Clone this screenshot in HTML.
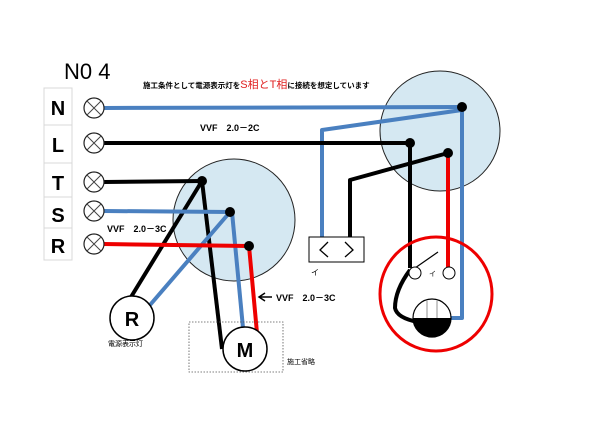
<!DOCTYPE html>
<html><head><meta charset="utf-8"><style>
body{margin:0;background:#fff;}
svg{display:block;font-family:"Liberation Sans","Noto Sans CJK JP",sans-serif;}
</style></head><body>
<svg width="600" height="425" viewBox="0 0 600 425" xmlns="http://www.w3.org/2000/svg">
<rect width="600" height="425" fill="#fff"/>
<text x="64" y="79" font-size="22">N0 4</text>
<text x="143" y="88" font-size="7.5" font-weight="bold">施工条件として電源表示灯を<tspan fill="#e02020" font-size="11" font-weight="normal">S相とT相</tspan>に接続を想定しています</text>
<!-- terminal block -->
<g fill="none" stroke="#d8d8d8" stroke-width="1">
<rect x="44" y="88" width="28" height="172"/>
<line x1="44" y1="125" x2="72" y2="125"/><line x1="44" y1="163" x2="72" y2="163"/>
<line x1="44" y1="197" x2="72" y2="197"/><line x1="44" y1="228" x2="72" y2="228"/>
</g>
<g font-size="20" font-weight="bold" text-anchor="middle">
<text x="58" y="115">N</text><text x="58" y="152">L</text><text x="58" y="190">T</text><text x="58" y="222">S</text><text x="58" y="253">R</text>
</g>
<!-- circles -->
<circle cx="234" cy="220" r="61" fill="#d5e8f2" stroke="#222" stroke-width="1"/>
<circle cx="440" cy="131" r="60" fill="#d5e8f2" stroke="#222" stroke-width="1"/>
<!-- wires -->
<g fill="none" stroke-width="4" stroke-linejoin="round">
<polyline points="104,108 462,107 462,318 445,318" stroke="#4a80c0"/>
<polyline points="322,240 322,130 462,110" stroke="#4a80c0"/>
<polyline points="104,143 410,143 410,268" stroke="#000"/>
<polyline points="350,240 350,180 448,153" stroke="#000"/>
<line x1="448" y1="153" x2="448" y2="267" stroke="#e00"/>
<line x1="104" y1="182" x2="202" y2="181" stroke="#000"/>
<line x1="202" y1="181" x2="131" y2="297" stroke="#000"/>
<line x1="202" y1="181" x2="222" y2="349" stroke="#000"/>
<line x1="104" y1="211" x2="230" y2="212" stroke="#4a80c0"/>
<line x1="230" y1="212" x2="150" y2="305" stroke="#4a80c0"/>
<line x1="232" y1="212" x2="243" y2="328" stroke="#4a80c0"/>
<polyline points="104,244 249,246 257,333" stroke="#e00"/>
<path d="M410,270 Q395,290 395,308 Q397,318 418,322" stroke="#000"/>
</g>
<g fill="#000">
<circle cx="202" cy="181" r="5"/><circle cx="230" cy="212" r="5"/><circle cx="249" cy="246" r="5"/>
<circle cx="462" cy="107" r="5"/><circle cx="410" cy="143" r="5"/><circle cx="448" cy="153" r="5"/>
</g>
<!-- terminal screws -->
<g fill="#fff" stroke="#222" stroke-width="1.2">
<circle cx="94" cy="108" r="10"/><circle cx="94" cy="143" r="10"/><circle cx="94" cy="182" r="10"/><circle cx="94" cy="211" r="10"/><circle cx="94" cy="244" r="10"/>
</g>
<g stroke="#444" stroke-width="1">
<path d="M87,101l14,14M101,101l-14,14M87,136l14,14M101,136l-14,14M87,175l14,14M101,175l-14,14M87,204l14,14M101,204l-14,14M87,237l14,14M101,237l-14,14"/>
</g>
<!-- R lamp & M -->
<circle cx="132" cy="318" r="22" fill="#fff" stroke="#000" stroke-width="1.5"/>
<text x="132" y="326" font-size="20" font-weight="bold" text-anchor="middle">R</text>
<text x="108" y="346" font-size="7">電源表示灯</text>
<rect x="189" y="322" width="94" height="50" fill="none" stroke="#555" stroke-width="0.8" stroke-dasharray="1.5,1.5"/>
<circle cx="245" cy="349" r="22" fill="#fff" stroke="#000" stroke-width="1.5"/>
<text x="245" y="357" font-size="20" font-weight="bold" text-anchor="middle">M</text>
<text x="287" y="364" font-size="7">施工省略</text>
<!-- labels -->
<g font-size="9" font-weight="bold">
<text x="200" y="131">VVF　2.0－2C</text>
<text x="107" y="232">VVF　2.0－3C</text>
<text x="276" y="301">VVF　2.0－3C</text>
</g>
<path d="M272,297 L260,297 M265,293 L259,297 L265,301" stroke="#000" stroke-width="1.5" fill="none"/>
<!-- switch box -->
<rect x="309" y="237" width="55" height="25" fill="#fff" stroke="#000" stroke-width="1"/>
<path d="M328,242 L320,250 L328,257 M345,242 L353,250 L345,257" stroke="#000" stroke-width="1.3" fill="none"/>
<text x="311" y="275" font-size="8">イ</text>
<!-- right switch/lamp -->
<ellipse cx="436" cy="294" rx="56" ry="57" fill="none" stroke="#e00" stroke-width="3"/>
<line x1="415" y1="268" x2="438" y2="252" stroke="#000" stroke-width="1.2"/>
<circle cx="415" cy="273" r="6" fill="#fff" stroke="#000"/>
<circle cx="449" cy="273" r="6" fill="#fff" stroke="#000"/>
<text x="429" y="276" font-size="7">イ</text>
<circle cx="432" cy="318" r="19" fill="#fff" stroke="#000" stroke-width="1.2"/>
<path d="M413,318 A19,19 0 0 0 451,318 Z" fill="#000"/>
<path d="M427,301 V318 M437,301 V318" stroke="#777" stroke-width="0.8"/>
</svg>
</body></html>
